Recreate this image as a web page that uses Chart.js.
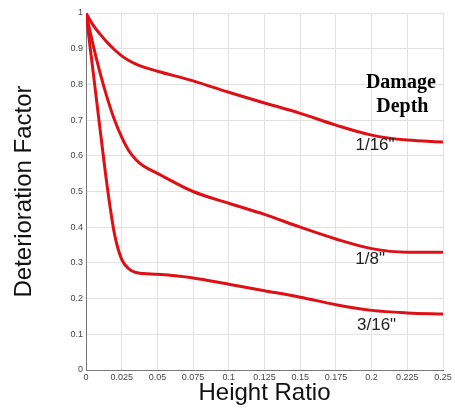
<!DOCTYPE html>
<html lang="en">
<head>
    <meta charset="UTF-8">
    <title>Deterioration Factor</title>
    <script src="https://cdn.jsdelivr.net/npm/chart.js"></script>
    <style>
        html, body { margin: 0; padding: 0; background: #fff; }
        #wrap { width: 455px; height: 408px; }
    </style>
</head>
<body>
    <div id="wrap"><canvas id="chart" width="455" height="408"></canvas></div>
    <script>
        // data
        const heightRatio = [0, 0.005, 0.01, 0.015, 0.02, 0.025, 0.03, 0.035, 0.04, 0.05, 0.075, 0.1, 0.125, 0.15, 0.175, 0.2, 0.225, 0.25];
        const depthLabels = ['1/16"', '1/8"', '3/16"'];
        const depth1_16 = [1, 0.966, 0.94, 0.917, 0.897, 0.88, 0.867, 0.857, 0.849, 0.837, 0.81, 0.778, 0.748, 0.719, 0.686, 0.658, 0.644, 0.639];
        const depth1_8 = [1, 0.91, 0.83, 0.76, 0.7, 0.652, 0.614, 0.589, 0.572, 0.551, 0.5, 0.467, 0.436, 0.4, 0.367, 0.34, 0.33, 0.33];
        const depth3_16 = [1, 0.835, 0.67, 0.51, 0.38, 0.31, 0.283, 0.273, 0.27, 0.268, 0.258, 0.24, 0.222, 0.204, 0.183, 0.167, 0.16, 0.157];
        const xTicks = [0, 0.025, 0.05, 0.075, 0.1, 0.125, 0.15, 0.175, 0.2, 0.225, 0.25];

        function pts(ys) {
            return heightRatio.map((x, i) => ({ x: x, y: ys[i] }));
        }

        const lineStyle = {
            borderColor: 'rgb(222, 16, 22)',
            borderWidth: 3,
            pointRadius: 0,
            fill: false,
            cubicInterpolationMode: 'monotone'
        };

        // curve labels + legend title drawn as text on the chart
        const annotations = {
            id: 'annotations',
            afterDatasetsDraw(chart) {
                const ctx = chart.ctx;
                const xs = chart.scales.x, ys = chart.scales.y;
                const spots = [[0.2024, 0.628], [0.199, 0.31], [0.2035, 0.126]];
                ctx.save();
                ctx.fillStyle = '#222';
                ctx.textAlign = 'center';
                ctx.textBaseline = 'middle';
                ctx.font = '17px "Liberation Sans", Arial, sans-serif';
                depthLabels.forEach((t, i) => {
                    ctx.fillText(t, xs.getPixelForValue(spots[i][0]), ys.getPixelForValue(spots[i][1]));
                });
                ctx.font = 'bold 20px "Liberation Serif", "Times New Roman", serif';
                ctx.fillStyle = '#000';
                ctx.fillText('Damage', xs.getPixelForValue(0.2205), ys.getPixelForValue(0.804));
                ctx.fillText('Depth', xs.getPixelForValue(0.2215), ys.getPixelForValue(0.736));
                ctx.restore();
            }
        };

        new Chart(document.getElementById('chart'), {
            type: 'line',
            data: {
                datasets: [
                    Object.assign({ label: depthLabels[0], data: pts(depth1_16) }, lineStyle),
                    Object.assign({ label: depthLabels[1], data: pts(depth1_8) }, lineStyle),
                    Object.assign({ label: depthLabels[2], data: pts(depth3_16) }, lineStyle)
                ]
            },
            options: {
                responsive: false,
                animation: false,
                layout: { padding: { top: 13, right: 12, left: 0, bottom: 0 } },
                plugins: { legend: { display: false }, tooltip: { enabled: false } },
                scales: {
                    x: {
                        type: 'linear',
                        min: 0,
                        max: 0.25,
                        afterBuildTicks: (s) => { s.ticks = xTicks.map(v => ({ value: v })); },
                        afterFit: (s) => { s.height = 38; },
                        grid: { color: '#e2e2e2', drawTicks: false },
                        border: { color: '#777', width: 1 },
                        ticks: {
                            color: '#444',
                            font: { size: 9, family: '"Liberation Sans", Arial, sans-serif' },
                            padding: 2,
                            maxRotation: 0,
                            callback: (v) => String(v)
                        },
                        title: {
                            display: true,
                            text: 'Height Ratio',
                            color: '#111',
                            font: { size: 24, family: '"Liberation Sans", Arial, sans-serif' },
                            padding: { top: 0, bottom: 0 }
                        }
                    },
                    y: {
                        min: 0,
                        max: 1,
                        afterFit: (s) => { s.width = 86; },
                        grid: { color: '#e2e2e2', drawTicks: false },
                        border: { color: '#777', width: 1 },
                        ticks: {
                            stepSize: 0.1,
                            color: '#444',
                            font: { size: 9, family: '"Liberation Sans", Arial, sans-serif' },
                            padding: 3,
                            callback: (v) => String(Math.round(v * 10) / 10)
                        },
                        title: {
                            display: true,
                            text: 'Deterioration Factor',
                            color: '#111',
                            font: { size: 24, family: '"Liberation Sans", Arial, sans-serif' },
                            padding: { top: 10, bottom: 0 }
                        }
                    }
                }
            },
            plugins: [annotations]
        });
    </script>
</body>
</html>
